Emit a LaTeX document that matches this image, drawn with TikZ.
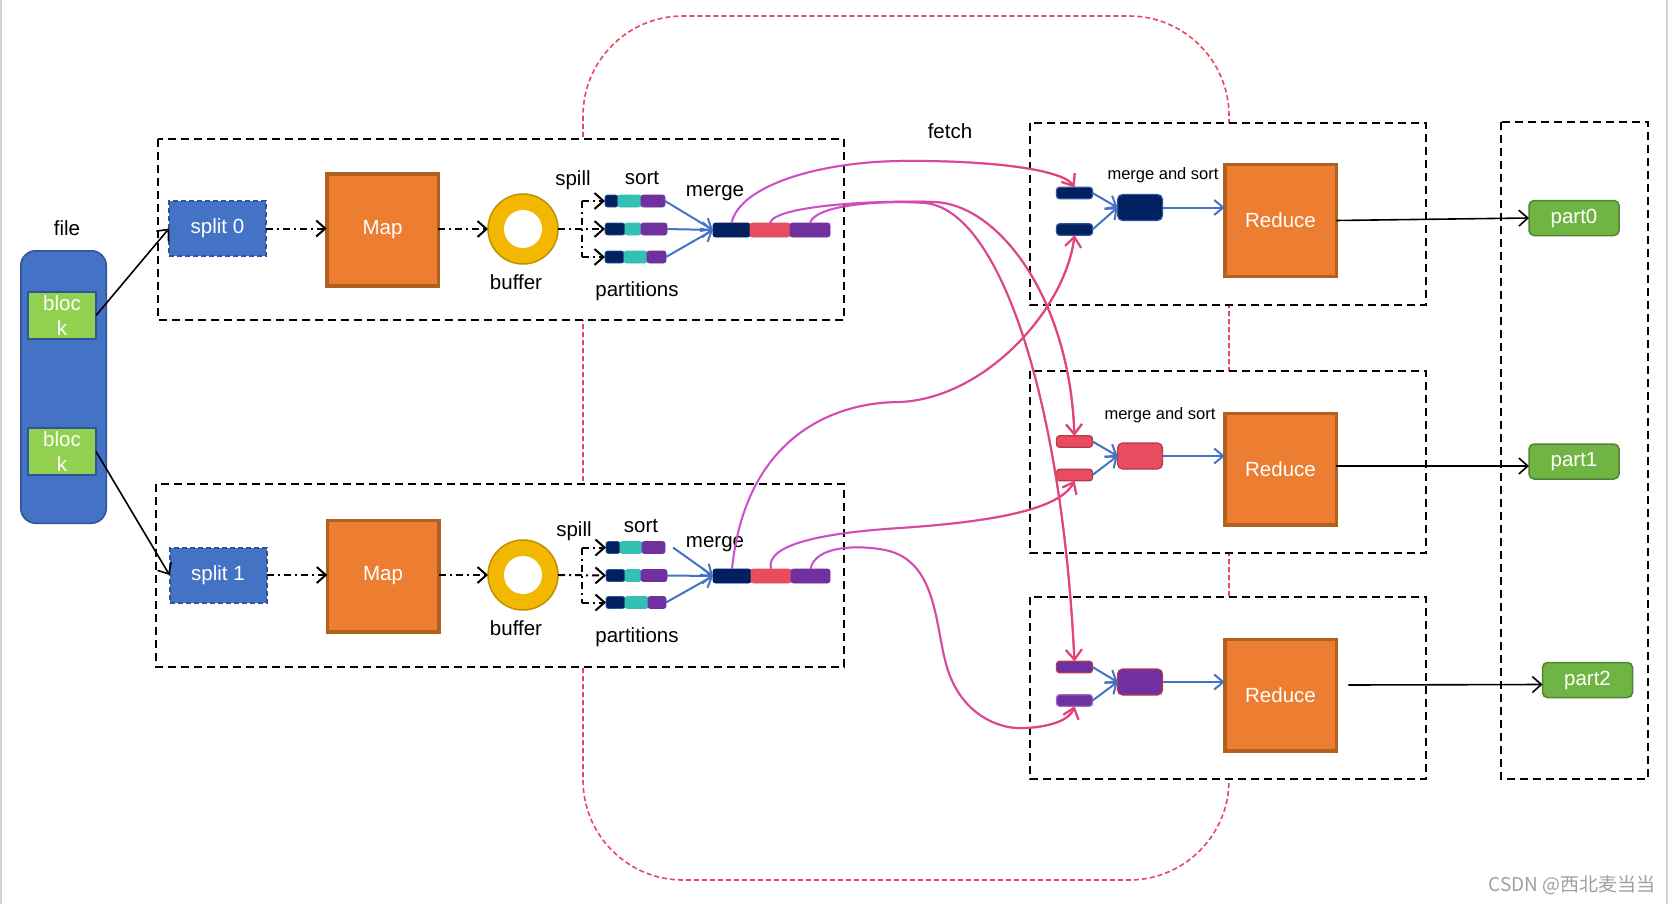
\documentclass[tikz,border=0pt]{standalone}
\usepackage{fontspec}
\setmainfont{Liberation Sans}
\newfontfamily\cjkfont{Noto Sans CJK SC}
\usetikzlibrary{arrows.meta,fadings,calc}
\definecolor{fileblue}{HTML}{4472C4}
\definecolor{fileborder}{HTML}{2F5597}
\definecolor{blockgreen}{HTML}{92D050}
\definecolor{orangefill}{HTML}{ED7D31}
\definecolor{orangeborder}{HTML}{B0601F}
\definecolor{goldfill}{HTML}{F2B800}
\definecolor{goldborder}{HTML}{BF9000}
\definecolor{navy}{HTML}{002060}
\definecolor{tealc}{HTML}{33C1B4}
\definecolor{purplec}{HTML}{7030A0}
\definecolor{redbar}{HTML}{E84C5F}
\definecolor{redborder}{HTML}{B23A4A}
\definecolor{partgreen}{HTML}{70B543}
\definecolor{partborder}{HTML}{548235}
\definecolor{arrowblue}{HTML}{4472C4}
\definecolor{reddash}{HTML}{E8475F}
\definecolor{fetchmag}{HTML}{C94FD6}
\definecolor{fetchred}{HTML}{E8446A}
\definecolor{wmgray}{HTML}{A0A0A0}
\tikzfading[name=fetchfade, left color=transparent!100, right color=transparent!0]
\newcommand\fsN{\fontsize{20.5}{24.5}\selectfont}
\newcommand\fsS{\fontsize{16.5}{19}\selectfont}
\begin{document}
\begin{tikzpicture}[x=1pt,y=-1pt,
  every node/.style={font=\fsN, inner sep=0pt, outer sep=0pt},
  frame/.style={draw=black, line width=2pt, dash pattern=on 8pt off 5pt, fill=white},
  filebox/.style={draw=fileborder, fill=fileblue, line width=1.5pt, rounded corners=15pt, minimum width=85.5pt, minimum height=272.5pt},
  blockbox/.style={draw=fileborder, fill=blockgreen, line width=2pt, minimum width=68pt, minimum height=47pt, text=white, align=center},
  splitbox/.style={draw=fileborder, fill=fileblue, line width=2pt, dash pattern=on 5pt off 3pt, minimum width=97pt, minimum height=55pt, text=white},
  mapbox/.style={draw=orangeborder, fill=orangefill, line width=3.5pt, minimum width=111.5pt, minimum height=111.5pt, text=white},
  ring/.style={circle, draw=goldborder, fill=goldfill, line width=1.5pt, minimum size=70pt},
  hole/.style={circle, fill=white, minimum size=38pt},
  seg/.style={rectangle, rounded corners=2.5pt, minimum height=12pt, line width=0.8pt, anchor=west},
  mseg/.style={rectangle, rounded corners=2.5pt, minimum height=14pt, line width=0.8pt, anchor=west},
  rbar/.style={rectangle, rounded corners=3pt, minimum width=36pt, minimum height=11.5pt, line width=1.2pt},
  rmerge/.style={rectangle, rounded corners=5pt, minimum width=45pt, minimum height=26pt, line width=1.2pt},
  partbox/.style={draw=partborder, fill=partgreen, rounded corners=5pt, line width=1.5pt, minimum width=90pt, minimum height=35pt, text=white},
  blk/.style={draw=black, line width=1.6pt, -{Straight Barb[length=9pt,width=16pt]}},
  ddl/.style={draw=black, line width=2pt, dash pattern=on 7pt off 4pt on 2pt off 4pt},
  dd/.style={ddl, -{Straight Barb[length=9pt,width=16pt]}},
  blu/.style={draw=arrowblue, line width=2pt, -{Straight Barb[length=9pt,width=15pt]}},
  fetch/.style={draw=fetchmag, line width=2pt, -{Straight Barb[length=10pt,width=16pt]}, postaction={draw=fetchred, path fading=fetchfade}},
  lbl/.style={text=black}
]
\fill[white] (0,0) rectangle (1669,904);
\useasboundingbox (0,0) rectangle (1669,904);
\draw[gray!35, line width=1.5pt] (0.75,0) -- (0.75,904);
\draw[gray!35, line width=1.5pt] (1667,0) -- (1667,904);

% big red dashed loop
\draw[reddash, line width=1.6pt, dash pattern=on 5pt off 3pt, rounded corners=100pt] (583,16) rectangle (1229,880);

% frames
\draw[frame] (158,139) rectangle (844,320);
\draw[frame] (156,484) rectangle (844,667);
\draw[frame] (1030,123) rectangle (1426,305);
\draw[frame] (1030,371) rectangle (1426,553);
\draw[frame] (1030,597) rectangle (1426,779);
\draw[frame] (1501,122) rectangle (1648,779);

% file
\node[lbl] (filelbl) at (67,228) {file};
\node[filebox] (file) at (63.5,387) {};
\node[blockbox] (blk1) at (62,315.5) {bloc\\k};
\node[blockbox] (blk2) at (62,451.5) {bloc\\k};

% mapper 1
\node[splitbox] (split0) at (217.5,228.5) {split 0};
\node[mapbox] (map1) at (382.5,230) {Map};
\node[ring] (buf1) at (523,229) {};
\node[hole] (hole1) at (523,229) {};
\node[lbl] (bufl1) at (516,282) {buffer};
\node[lbl] (spill1) at (573,180) {spill};
\node[lbl] (sort1) at (642,178) {sort};
\node[lbl] (merge1) at (715,193) {merge};
\node[lbl] (partl1) at (637,291) {partitions};
% partitions top
\node[seg, draw=fileborder, fill=navy, minimum width=13pt] (t1n) at (605,201) {};
\node[seg, draw=tealc, fill=tealc, minimum width=23pt] (t1t) at (618,201) {};
\node[seg, draw=purplec, fill=purplec, minimum width=24pt] (t1p) at (641,201) {};
\node[seg, draw=fileborder, fill=navy, minimum width=20pt] (t2n) at (605,229) {};
\node[seg, draw=tealc, fill=tealc, minimum width=16pt] (t2t) at (625,229) {};
\node[seg, draw=purplec, fill=purplec, minimum width=26pt] (t2p) at (641,229) {};
\node[seg, draw=fileborder, fill=navy, minimum width=19pt] (t3n) at (605,257) {};
\node[seg, draw=tealc, fill=tealc, minimum width=23pt] (t3t) at (624,257) {};
\node[seg, draw=purplec, fill=purplec, minimum width=19pt] (t3p) at (647,257) {};
% merged top
\node[mseg, draw=navy, fill=navy, minimum width=37pt] (tmN) at (713,230) {};
\node[mseg, draw=redbar, fill=redbar, minimum width=40pt] (tmR) at (750,230) {};
\node[mseg, draw=purplec, fill=purplec, minimum width=40pt] (tmP) at (790,230) {};

% mapper 2
\node[splitbox] (split1) at (218,575) {split 1};
\node[mapbox] (map2) at (383,576) {Map};
\node[ring] (buf2) at (523,575) {};
\node[hole] (hole2) at (523,575) {};
\node[lbl] (bufl2) at (516,628) {buffer};
\node[lbl] (spill2) at (574,531) {spill};
\node[lbl] (sort2) at (641,526) {sort};
\node[lbl] (merge2) at (715,544) {merge};
\node[lbl] (partl2) at (637,637) {partitions};
\node[seg, draw=fileborder, fill=navy, minimum width=14pt] (b1n) at (606,547.5) {};
\node[seg, draw=tealc, fill=tealc, minimum width=22pt] (b1t) at (620,547.5) {};
\node[seg, draw=purplec, fill=purplec, minimum width=23pt] (b1p) at (642,547.5) {};
\node[seg, draw=fileborder, fill=navy, minimum width=19pt] (b2n) at (606,575.5) {};
\node[seg, draw=tealc, fill=tealc, minimum width=16pt] (b2t) at (625,575.5) {};
\node[seg, draw=purplec, fill=purplec, minimum width=26pt] (b2p) at (641,575.5) {};
\node[seg, draw=fileborder, fill=navy, minimum width=19pt] (b3n) at (606,602.5) {};
\node[seg, draw=tealc, fill=tealc, minimum width=23pt] (b3t) at (625,602.5) {};
\node[seg, draw=purplec, fill=purplec, minimum width=18pt] (b3p) at (648,602.5) {};
\node[mseg, draw=navy, fill=navy, minimum width=38pt] (bmN) at (713,576) {};
\node[mseg, draw=redbar, fill=redbar, minimum width=40pt] (bmR) at (751,576) {};
\node[mseg, draw=purplec, fill=purplec, minimum width=39pt] (bmP) at (791,576) {};

% mapper arrows
\draw[blk] (blk1.east) -- (split0.west);
\draw[blk] (blk2.east) -- (split1.west);
\draw[dd] (split0.east) -- (map1.west |- split0.east);
\draw[dd] (split1.east) -- (map2.west |- split1.east);
\draw[dd] (map1.east |- buf1.west) -- (buf1.west);
\draw[dd] (map2.east |- buf2.west) -- (buf2.west);
\coordinate (s1t) at (582,201);
\coordinate (s1b) at (582,257);
\coordinate (s2t) at (582,547.5);
\coordinate (s2b) at (582,602.5);
\draw[ddl] (s1t) -- (s1b);
\draw[ddl] (s2t) -- (s2b);
\draw[dd] (s1t) -- (t1n.west);
\draw[dd] (buf1.east) -- (t2n.west);
\draw[dd] (s1b) -- (t3n.west);
\draw[dd] (s2t) -- (b1n.west);
\draw[dd] (buf2.east) -- (b2n.west);
\draw[dd] (s2b) -- (b3n.west);
\draw[blu] (t1p.east) -- (tmN.west);
\draw[blu] (t2p.east) -- (tmN.west);
\draw[blu] (t3p.east) -- (tmN.west);
\draw[blu] ($(b1p.east)+(8,0)$) -- (bmN.west);
\draw[blu] (b2p.east) -- (bmN.west);
\draw[blu] (b3p.east) -- (bmN.west);

% reducers
\node[lbl] (fetchl) at (950,131) {fetch};
\node[lbl, font=\fsS] (ms1) at (1163,175) {merge and sort};
\node[lbl, font=\fsS] (ms2) at (1160,415) {merge and sort};
\node[rbar, draw=fileborder, fill=navy] (r1a) at (1074.5,193) {};
\node[rbar, draw=fileborder, fill=navy] (r1b) at (1074.5,229.5) {};
\node[rmerge, draw=fileborder, fill=navy] (r1m) at (1140,207.5) {};
\node[rbar, draw=redborder, fill=redbar] (r2a) at (1074.5,441.5) {};
\node[rbar, draw=redborder, fill=redbar] (r2b) at (1074.5,475) {};
\node[rmerge, draw=redborder, fill=redbar] (r2m) at (1140,456) {};
\node[rbar, draw=redborder, fill=purplec] (r3a) at (1074.5,667) {};
\node[rbar, draw=purplec!70, fill=purplec] (r3b) at (1074.5,700.5) {};
\node[rmerge, draw=redborder, fill=purplec] (r3m) at (1140,682) {};
\node[mapbox] (red1) at (1280.5,220.5) {Reduce};
\node[mapbox] (red2) at (1280.5,469) {Reduce};
\node[mapbox] (red3) at (1280.5,695) {Reduce};
\draw[blu] (r1a.east) -- (r1m.west);
\draw[blu] (r1b.east) -- (r1m.west);
\draw[blu] (r2a.east) -- (r2m.west);
\draw[blu] (r2b.east) -- (r2m.west);
\draw[blu] (r3a.east) -- (r3m.west);
\draw[blu] (r3b.east) -- (r3m.west);
\draw[blu] (r1m.east) -- (r1m.east -| red1.west);
\draw[blu] (r2m.east) -- (r2m.east -| red2.west);
\draw[blu] (r3m.east) -- (r3m.east -| red3.west);

% outputs
\node[partbox] (part0) at (1574,218) {part0};
\node[partbox] (part1) at (1574,461.5) {part1};
\node[partbox] (part2) at (1587.5,680) {part2};
\draw[blk] (red1.east) -- (part0.west);
\draw[blk] ($(red2.east)+(0,-3)$) -- ($(part1.west)+(0,4.5)$);
\draw[blk] ($(red3.east)+(12,-10)$) -- ($(part2.west)+(0,4.5)$);

% fetch curves
\draw[fetch] (tmN.north) .. controls (740,185) and (820,162) .. (900,161) .. controls (980,160) and (1062,168) .. (r1a.north);
\draw[fetch] (tmR.north) .. controls (775,205) and (880,200) .. (935,202) .. controls (1000,205) and (1070,300) .. (r2a.north);
\draw[fetch] (tmP.north) .. controls (815,205) and (880,200) .. (925,203) .. controls (1000,210) and (1062,400) .. (r3a.north);
\draw[fetch] (bmN.north) .. controls (745,440) and (830,402) .. (900,402) .. controls (985,398) and (1065,310) .. (r1b.south);
\draw[fetch] (bmR.north) .. controls (765,545) and (820,533) .. (900,528) .. controls (990,522) and (1060,510) .. (r2b.south);
\draw[fetch] (bmP.north) .. controls (815,545) and (860,545) .. (885,550) .. controls (935,560) and (935,620) .. (945,660) .. controls (958,715) and (1000,730) .. (1025,728) .. controls (1050,727) and (1070,720) .. (r3b.south);

% watermark
\node[text=wmgray, font=\cjkfont\fontsize{19}{22}\selectfont] (wm) at (1572,885) {CSDN @西北麦当当};
\end{tikzpicture}
\end{document}
